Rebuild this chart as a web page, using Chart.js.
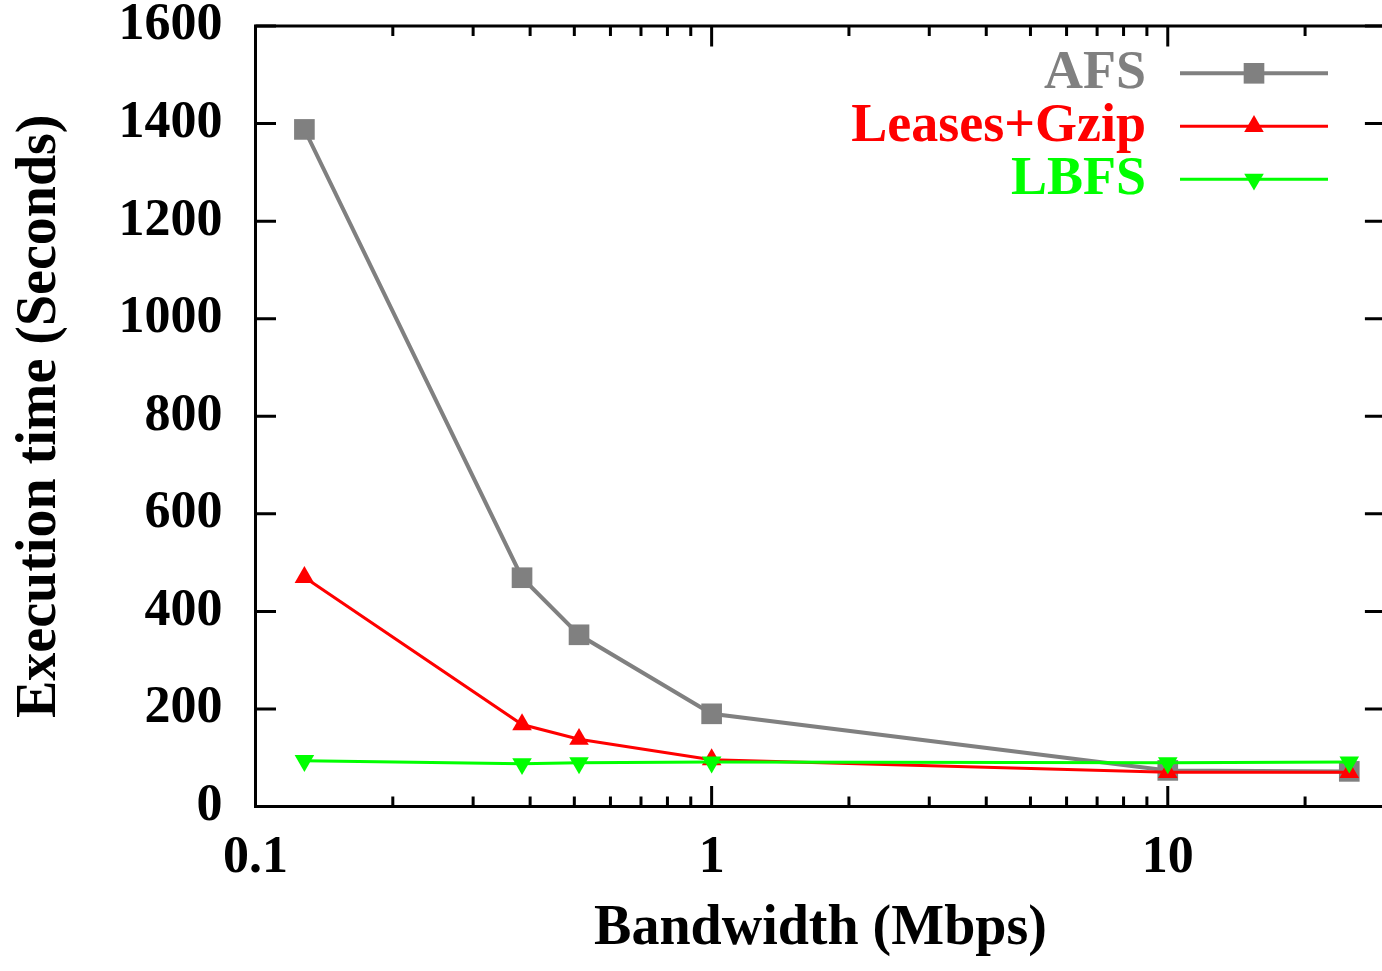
<!DOCTYPE html>
<html><head><meta charset="utf-8">
<script src="https://cdn.jsdelivr.net/npm/chart.js@4.4.1/dist/chart.umd.min.js"></script>
<style>
html,body{margin:0;padding:0;overflow:hidden;background:#fff;width:1382px;height:971px}
#wrap{position:absolute;left:0;top:0;width:1400px;height:971px}
</style></head><body><div id="wrap"><canvas id="c" width="1400" height="971"></canvas></div>
<script>
// ---- data ----
const bandwidth = [0.128, 0.384, 0.512, 1, 10, 25];
const afs = [1388, 469, 352, 190, 74, 72];
const leasesGzip = [470, 168, 138, 96, 70, 70];
const lbfs = [94, 87.5, 89.5, 91, 89.5, 91];
const seriesNames = ['AFS', 'Leases+Gzip', 'LBFS'];
const xMajorTicks = [0.1, 1, 10];
const xMinorTicks = [0.2, 0.3, 0.4, 0.5, 0.6, 0.7, 0.8, 0.9, 2, 3, 4, 5, 6, 7, 8, 9, 20, 30];
const yTicks = [0, 200, 400, 600, 800, 1000, 1200, 1400, 1600];
const xLabel = 'Bandwidth (Mbps)';
const yLabel = 'Execution time (Seconds)';

const SERIF = "'Liberation Serif', 'Times New Roman', serif";
const toPts = ys => bandwidth.map((x, i) => ({x: x, y: ys[i]}));

const frameTicks = {
  id: 'frameTicks',
  beforeDatasetsDraw(chart) {
    const {ctx, chartArea: a, scales: {x, y}} = chart;
    ctx.save();
    ctx.strokeStyle = '#000';
    ctx.lineWidth = 3;
    ctx.lineCap = 'butt';
    ctx.beginPath();
    const tick = (v, len) => {
      const px = x.getPixelForValue(v);
      ctx.moveTo(px, a.bottom); ctx.lineTo(px, a.bottom - len);
      ctx.moveTo(px, a.top); ctx.lineTo(px, a.top + len);
    };
    xMajorTicks.forEach(v => tick(v, 20.5));
    xMinorTicks.forEach(v => tick(v, 10));
    yTicks.forEach(v => {
      const py = y.getPixelForValue(v);
      ctx.moveTo(a.left, py); ctx.lineTo(a.left + 20.5, py);
      ctx.moveTo(a.right, py); ctx.lineTo(a.right - 20.5, py);
    });
    ctx.stroke();
    ctx.strokeRect(a.left, a.top, a.right - a.left, a.bottom - a.top);
    ctx.restore();
  }
};

const keyLegend = {
  id: 'keyLegend',
  afterDatasetsDraw(chart) {
    const {ctx} = chart;
    ctx.save();
    chart.data.datasets.forEach((ds, i) => {
      const yy = 73.3 + i * 53;
      ctx.font = "bold 54px " + SERIF;
      ctx.fillStyle = ds.borderColor;
      ctx.textAlign = 'right';
      ctx.textBaseline = 'middle';
      ctx.fillText(ds.label, 1146, yy + 1);
      ctx.strokeStyle = ds.borderColor;
      ctx.lineWidth = ds.borderWidth;
      ctx.beginPath();
      ctx.moveTo(1180, yy); ctx.lineTo(1328, yy);
      ctx.stroke();
      ctx.fillStyle = ds.pointBackgroundColor;
      Chart.helpers.drawPoint(ctx, {
        pointStyle: ds.pointStyle, radius: ds.pointRadius,
        rotation: ds.pointRotation || 0, borderWidth: 0
      }, 1254, yy);
    });
    ctx.restore();
  }
};

new Chart(document.getElementById('c'), {
  type: 'line',
  data: {
    datasets: [
      {label: seriesNames[0], data: toPts(afs), borderColor: '#808080', backgroundColor: '#808080',
       pointBackgroundColor: '#808080', borderWidth: 4, pointStyle: 'rect', pointRadius: 14.6,
       pointBorderWidth: 0, order: 3},
      {label: seriesNames[1], data: toPts(leasesGzip), borderColor: '#ff0000', backgroundColor: '#ff0000',
       pointBackgroundColor: '#ff0000', borderWidth: 3, pointStyle: 'triangle', pointRadius: 11.3,
       pointBorderWidth: 0, order: 2},
      {label: seriesNames[2], data: toPts(lbfs), borderColor: '#00ff00', backgroundColor: '#00ff00',
       pointBackgroundColor: '#00ff00', borderWidth: 3, pointStyle: 'triangle', pointRotation: 180,
       pointRadius: 11.3, pointBorderWidth: 0, order: 1}
    ]
  },
  options: {
    responsive: false,
    animation: false,
    devicePixelRatio: 1,
    clip: false,
    layout: {padding: {top: 26, right: 8.5, left: 0, bottom: 0}},
    elements: {line: {tension: 0}, point: {hoverRadius: 0}},
    plugins: {legend: {display: false}, tooltip: {enabled: false}, title: {display: false}},
    scales: {
      x: {
        type: 'logarithmic', position: 'bottom', min: 0.1, max: 30,
        grid: {display: false, drawTicks: false},
        border: {display: false},
        afterBuildTicks: s => { s.ticks = xMajorTicks.map(v => ({value: v})); },
        afterFit: s => { s.height = 164.5; s.paddingLeft = 0; s.paddingRight = 0; },
        ticks: {color: '#000', autoSkip: false, maxRotation: 0, minRotation: 0, padding: 21,
                font: {family: SERIF, weight: 'bold', size: 52},
                callback: v => String(v)},
        title: {display: true, text: xLabel, color: '#000', padding: {top: 0, bottom: 8},
                font: {family: SERIF, weight: 'bold', size: 56}}
      },
      y: {
        type: 'linear', min: 0, max: 1600,
        grid: {display: false, drawTicks: false},
        border: {display: false},
        afterBuildTicks: s => { s.ticks = yTicks.map(v => ({value: v})); },
        afterFit: s => { s.width = 255.5; s.paddingTop = 0; s.paddingBottom = 0; },
        ticks: {color: '#000', padding: 33, font: {family: SERIF, weight: 'bold', size: 52},
                callback: v => String(v)},
        title: {display: true, text: yLabel, color: '#000', padding: {top: 7, bottom: 0},
                font: {family: SERIF, weight: 'bold', size: 56}}
      }
    }
  },
  plugins: [frameTicks, keyLegend]
});
</script></body></html>
